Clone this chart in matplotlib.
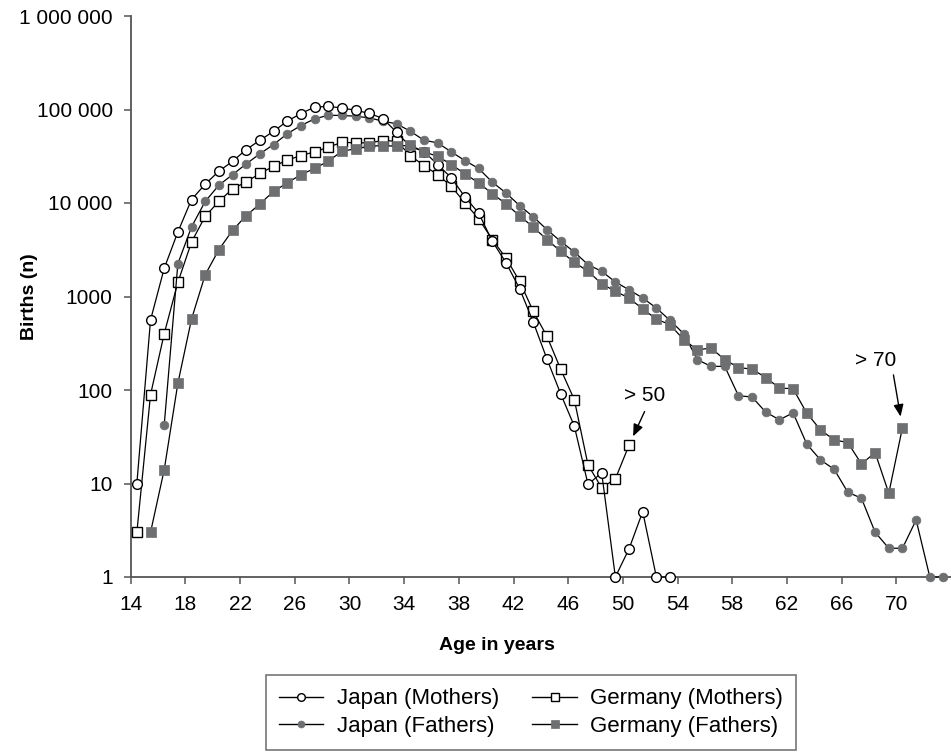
import matplotlib
matplotlib.use('Agg')
import matplotlib.pyplot as plt
from matplotlib.lines import Line2D
from matplotlib.ticker import NullLocator
import numpy as np

plt.rcParams['font.family'] = ['Liberation Sans', 'DejaVu Sans']

# Births by age of parent (log scale).
jp_mothers_age = list(range(14, 54))
jp_mothers = [10, 560, 2000, 4900, 10900, 15900, 21900, 27900, 37300, 46800,
              58500, 75000, 90600, 106000, 108000, 104000, 98000, 91000, 80000, 57000,
              40200, 35500, 25800, 18600, 11600, 7800, 3900, 2300, 1210, 530,
              214, 91, 41, 9.8, 13, 1, 2, 5, 1, 1]

de_mothers_age = list(range(14, 51))
de_mothers = [3, 89, 400, 1415, 3830, 7210, 10400, 14200, 16800, 20700,
              24700, 28700, 32200, 35200, 39500, 44600, 44000, 44000, 46600, 45800,
              32200, 25100, 20100, 15100, 10000, 6800, 4060, 2580, 1450, 692,
              374, 167, 78.5, 15.8, 9.0, 11.2, 25.7]

jp_fathers_age = list(range(16, 74))
jp_fathers = [42, 2245, 5550, 10400, 15500, 20100, 26200, 33600, 42200, 55000,
              67400, 79400, 86800, 86300, 84800, 81400, 75000, 70300, 58600, 46900,
              44000, 35200, 28400, 23400, 16700, 12800, 9380, 7100, 5190, 3890,
              2990, 2190, 1860, 1430, 1180, 964, 753, 555, 400, 211,
              179, 179, 87, 84, 58, 48, 57, 26.4, 17.9, 14.2,
              8.07, 6.96, 3.01, 2.03, 2.03, 4.08, 1, 1]

de_fathers_age = list(range(15, 71))
de_fathers = [3, 14, 118, 574, 1710, 3170, 5100, 7330, 9770, 13300,
              16400, 20100, 23400, 28000, 35800, 38000, 40400, 41200, 40400, 41500,
              35200, 31600, 25800, 20500, 16400, 12600, 9770, 7300, 5500, 4060,
              3040, 2320, 1860, 1370, 1135, 964, 735, 574, 499, 345,
              269, 281, 211, 174, 167, 136, 105, 103, 56.6, 37.5,
              29.3, 27.4, 16.2, 21.4, 7.87, 39.7]

x_ticks = list(range(14, 71, 4))
y_ticks = [1, 10, 100, 1000, 10000, 100000, 1000000]
y_tick_labels = ['1', '10', '100', '1000', '10 000', '100 000', '1 000 000']

grey = '#6e6f71'
axis_grey = '#555555'
mid_year = 0.45  # points sit inside the year interval

fig = plt.figure(figsize=(9.51, 7.56), dpi=100)
ax = fig.add_axes([130.7 / 951, 1 - 577 / 756, 1 - 130.7 / 951, (577 - 16) / 756])

styles = {
    'jm': dict(marker='o', mfc='white', mec='black', mew=1.0),
    'jf': dict(marker='o', mfc=grey, mec=grey, mew=0.5),
    'dm': dict(marker='s', mfc='white', mec='black', mew=1.0),
    'df': dict(marker='s', mfc=grey, mec=grey, mew=0.5),
}
sizes = {'jm': 7, 'jf': 6.3, 'dm': 7, 'df': 7}


def plot_series(ages, values, style, z):
    ax.plot(np.array(ages) + mid_year, values, color='black', lw=0.9,
            ms=sizes[style], clip_on=False, zorder=z, **styles[style])


plot_series(de_mothers_age, de_mothers, 'dm', 3)
plot_series(jp_fathers_age, jp_fathers, 'jf', 4)
plot_series(jp_mothers_age, jp_mothers, 'jm', 5)
plot_series(de_fathers_age, de_fathers, 'df', 6)

ax.set_yscale('log')
ax.set_ylim(1, 1e6)
ax.set_xlim(14, 74)
ax.set_yticks(y_ticks)
ax.set_yticklabels(y_tick_labels)
ax.yaxis.set_minor_locator(NullLocator())
ax.set_xticks(x_ticks)
ax.set_xticklabels([str(t) for t in x_ticks])

for side in ('top', 'right'):
    ax.spines[side].set_visible(False)
for side in ('left', 'bottom'):
    ax.spines[side].set_color(axis_grey)
    ax.spines[side].set_linewidth(1.3)
ax.tick_params(axis='both', colors=axis_grey, length=5, width=1.1, labelsize=15,
               labelcolor='black')
ax.tick_params(axis='y', pad=8)
ax.tick_params(axis='x', pad=8)

# Open-ended age groups.
arrow = dict(arrowstyle='-|>,head_length=0.6,head_width=0.25', color='black',
             lw=1.0, mutation_scale=12, shrinkA=0)
x50, y50 = de_mothers_age[-1] + mid_year, de_mothers[-1]
x70, y70 = de_fathers_age[-1] + mid_year, de_fathers[-1]
ax.annotate('> 50', xy=(x50, y50), xytext=(11, 36), textcoords='offset points',
            ha='center', va='center', fontsize=15)
ax.annotate('', xy=(x50, y50), xytext=(11.2, 24.2), textcoords='offset points',
            arrowprops=dict(arrow, shrinkB=7))
ax.annotate('> 70', xy=(x70, y70), xytext=(-19, 48.5), textcoords='offset points',
            ha='center', va='center', fontsize=15)
ax.annotate('', xy=(x70, y70), xytext=(-6.5, 37.9), textcoords='offset points',
            arrowprops=dict(arrow, shrinkB=8))

fig.text(497 / 951, 1 - 645 / 756, 'Age in years', ha='center', va='center',
         fontsize=14, fontweight='bold')
fig.text(30 / 951, 1 - 297 / 756, 'Births (n)', ha='center', va='center',
         rotation=90, fontsize=14, fontweight='bold')

order = ['jm', 'jf', 'dm', 'df']
labels = ['Japan (Mothers)', 'Japan (Fathers)', 'Germany (Mothers)', 'Germany (Fathers)']
handles = [Line2D([], [], color='black', lw=1, ms=5.5 if k != 'jf' else 5, **styles[k])
           for k in order]
leg = fig.legend(handles, labels, loc='upper left', ncol=2,
                 bbox_to_anchor=(265.7 / 951, 1 - 675 / 756), borderaxespad=0,
                 fontsize=16, frameon=True, fancybox=False, edgecolor=axis_grey,
                 handlelength=2.0, handletextpad=0.6, columnspacing=1.5,
                 labelspacing=0.3, borderpad=0.6)
leg.get_frame().set_linewidth(1.2)

fig.savefig('out.png', dpi=100)
